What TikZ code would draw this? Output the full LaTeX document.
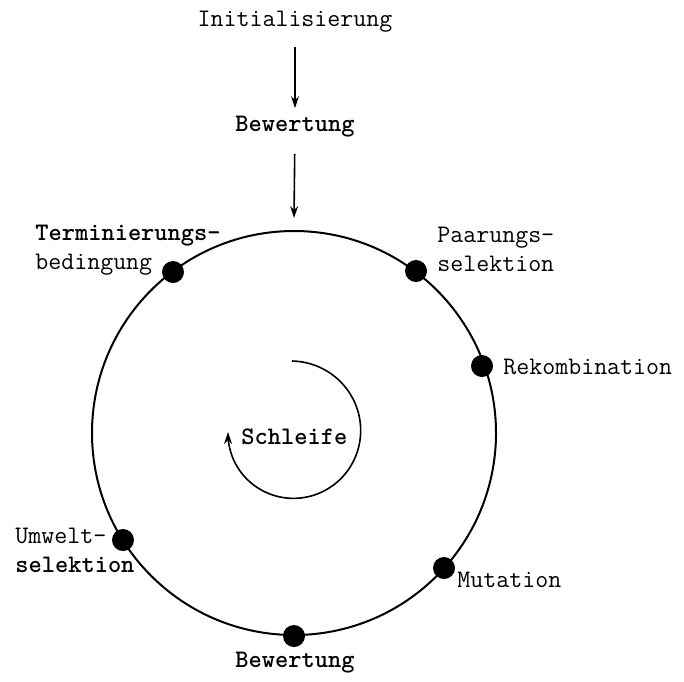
\documentclass[tikz,border=0pt]{standalone}
\usetikzlibrary{arrows.meta}
\begin{document}
\begin{tikzpicture}[x=0.5pt,y=-0.5pt,
  lbl/.style={font=\ttfamily\fontsize{12.6}{14.5}\selectfont, inner sep=0pt, align=left},
  blbl/.style={inner sep=0pt, align=left, font=\ttfamily\bfseries\fontsize{12.6}{14.5}\selectfont},
  dot/.style={circle, fill=black, minimum size=11pt, inner sep=0pt},
  arr/.style={-{Stealth[length=6pt,width=4pt]}, line width=0.8pt},
  ring/.style={line width=1pt}]
\useasboundingbox (0,0) rectangle (684,681);

% top sequence
\node[lbl] (init) at (295,22) {Initialisierung};
\node[blbl] (bew1) at (295,127) {Bewertung};
\coordinate (top) at (294,218);
\draw[arr, shorten <=7pt, shorten >=4pt] (init) -- (bew1);
\draw[arr, shorten <=8pt] (bew1) -- (top);

% main loop
\draw[ring] (294,433) circle[radius=202];

\node[dot] (term) at (173,272) {};
\node[dot] (paar) at (416,271) {};
\node[dot] (rekomb) at (482,366) {};
\node[dot] (mut) at (444,568) {};
\node[dot] (bew2) at (294,636) {};
\node[dot] (umw) at (123,540) {};

% labels
\node[lbl, anchor=west] (termL) at (35,250) {\textbf{Terminierungs-}\\bedingung};
\node[lbl, anchor=west] (paarL) at (437,249) {Paarungs-\\selektion};
\node[lbl, anchor=west] (rekombL) at (503,367) {Rekombination};
\node[lbl, anchor=west] (mutL) at (457,580) {Mutation};
\node[blbl] (bew2L) at (295,663) {Bewertung};
\node[lbl, anchor=west] (umwL) at (15,550) {Umwelt-\\\textbf{selektion}};

% inner spiral
\node[blbl, anchor=west] (schleife) at (241,437) {Schleife};
\draw[arr] plot[smooth, domain=90:-180, samples=60]
  ({292+(64+7*(\x+180)/270)*cos(\x)}, {432-(64+7*(\x+180)/270)*sin(\x)});
\end{tikzpicture}
\end{document}
